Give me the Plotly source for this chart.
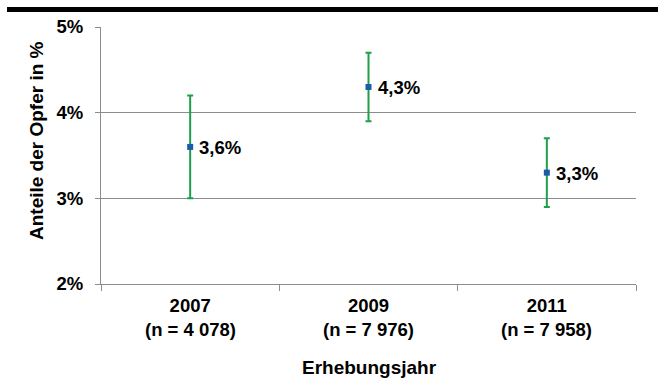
import plotly.graph_objects as go

# Survey years with sample sizes
years = ["2007", "2009", "2011"]
sample_sizes = ["4 078", "7 976", "7 958"]

# Share of victims (%) with confidence interval bounds
shares = [3.6, 4.3, 3.3]
ci_lower = [3.0, 3.9, 2.9]
ci_upper = [4.2, 4.7, 3.7]

# Y-axis ticks
y_ticks = [2, 3, 4, 5]
y_tick_labels = ["2%", "3%", "4%", "5%"]

FONT = "Liberation Sans, Arial, sans-serif"
W, H = 658, 378
ML, MR, MT, MB = 101, 22, 27, 94
PW, PH = W - ML - MR, H - MT - MB

def px_x(x):
    return (x - ML) / PW

def px_y(y):
    return (H - MB - y) / PH

fig = go.Figure()
fig.add_trace(go.Scatter(
    x=years,
    y=shares,
    mode="markers",
    marker=dict(symbol="square", size=6, color="#1a5ca8"),
    error_y=dict(
        type="data",
        symmetric=False,
        array=[u - s for u, s in zip(ci_upper, shares)],
        arrayminus=[s - l for l, s in zip(ci_lower, shares)],
        color="#1f9e4c",
        thickness=2,
        width=3,
    ),
    cliponaxis=False,
    showlegend=False,
))

annotations = []
# Value labels beside each point (category axes place annotations by index)
for i, v in enumerate(shares):
    annotations.append(dict(
        text="<b>" + f"{v:.1f}".replace(".", ",") + "%</b>",
        x=i, y=v, xref="x", yref="y",
        xanchor="left", yanchor="middle", xshift=7, yshift=-1,
        showarrow=False,
        font=dict(family=FONT, size=18.5, color="#000000"),
    ))
# Sample sizes below the year labels
for i, n in enumerate(sample_sizes):
    annotations.append(dict(
        text=f"<b>(n = {n})</b>",
        x=i, y=px_y(329), xref="x", yref="paper",
        xanchor="center", yanchor="middle",
        showarrow=False,
        font=dict(family=FONT, size=18.5, color="#000000"),
    ))
annotations += [
    dict(
        text="<b>Anteile der Opfer in %</b>",
        xref="paper", yref="paper",
        x=px_x(36), y=px_y(141),
        xanchor="center", yanchor="middle",
        textangle=-90, showarrow=False,
        font=dict(family=FONT, size=19, color="#000000"),
    ),
    dict(
        text="<b>Erhebungsjahr</b>",
        xref="paper", yref="paper",
        x=px_x(369), y=px_y(367),
        xanchor="center", yanchor="middle",
        showarrow=False,
        font=dict(family=FONT, size=19, color="#000000"),
    ),
]

fig.update_layout(
    width=W,
    height=H,
    margin=dict(l=ML, r=MR, t=MT, b=MB),
    paper_bgcolor="white",
    plot_bgcolor="white",
    font=dict(family=FONT, color="#000000"),
    xaxis=dict(
        type="category",
        range=[-0.5, 2.5],
        tickvals=years,
        ticktext=[f"<b>{y}</b>" for y in years],
        tickson="boundaries",
        ticks="outside",
        ticklen=6,
        tickcolor="#8c8c8c",
        showline=True,
        linecolor="#8c8c8c",
        linewidth=1,
        showgrid=False,
        ticklabelstandoff=5,
        tickfont=dict(family=FONT, size=18.5, color="#000000"),
        fixedrange=True,
    ),
    yaxis=dict(
        range=[2, 5],
        tickvals=y_ticks,
        ticktext=[f"<b>{t}</b>" for t in y_tick_labels],
        ticks="outside",
        ticklen=5,
        tickcolor="#8c8c8c",
        showline=True,
        linecolor="#8c8c8c",
        linewidth=1,
        showgrid=True,
        gridcolor="#8c8c8c",
        gridwidth=1,
        zeroline=False,
        ticklabelstandoff=8,
        tickfont=dict(family=FONT, size=18.5, color="#000000"),
        fixedrange=True,
    ),
    shapes=[
        dict(
            type="rect", xref="paper", yref="paper",
            x0=px_x(7), x1=px_x(658), y0=px_y(12), y1=px_y(7),
            fillcolor="#000000", line=dict(width=0), layer="above",
        )
    ],
    annotations=annotations,
)

fig.write_html("out.html")
